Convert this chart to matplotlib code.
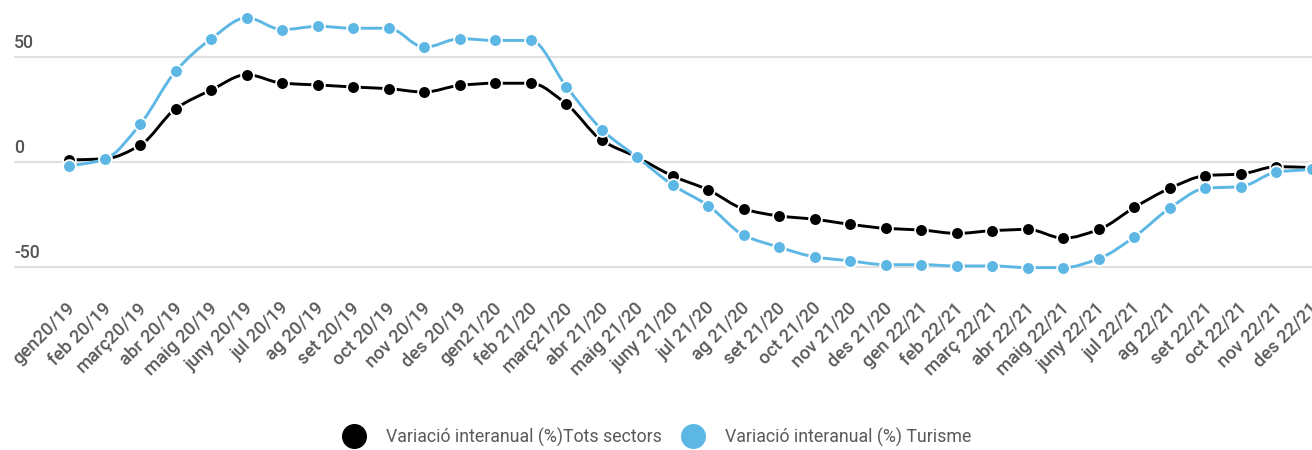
import numpy as np
import matplotlib
matplotlib.use("Agg")
import matplotlib.pyplot as plt
from matplotlib.path import Path
from matplotlib.patches import PathPatch
from matplotlib.lines import Line2D
from matplotlib.transforms import ScaledTranslation

plt.rcParams['font.family'] = ['Roboto', 'DejaVu Sans']

months = ["gen20/19", "feb 20/19", "març20/19", "abr 20/19", "maig 20/19", "juny 20/19",
          "jul 20/19", "ag 20/19", "set 20/19", "oct 20/19", "nov 20/19", "des 20/19",
          "gen21/20", "feb 21/20", "març21/20", "abr 21/20", "maig 21/20", "juny 21/20",
          "jul 21/20", "ag 21/20", "set 21/20", "oct 21/20", "nov 21/20", "des 21/20",
          "gen 22/21", "feb 22/21", "març 22/21", "abr 22/21", "maig 22/21", "juny 22/21",
          "jul 22/21", "ag 22/21", "set 22/21", "oct 22/21", "nov 22/21", "des 22/21"]

tots_sectors = [1.0, 1.5, 8.0, 25.4, 34.3, 41.6, 37.5, 36.7, 35.7, 34.9, 33.3, 36.5,
                37.5, 37.5, 27.6, 10.3, 2.2, -6.7, -13.3, -22.4, -25.7, -27.3, -29.7, -31.6,
                -32.4, -34.0, -32.7, -32.1, -36.3, -32.1, -21.6, -12.5, -6.5, -5.7, -2.2, -2.7]

turisme = [-2.0, 1.3, 18.0, 43.3, 58.7, 68.7, 63.0, 64.6, 63.7, 63.7, 54.6, 58.7,
           57.9, 57.9, 35.9, 15.4, 2.2, -11.0, -20.8, -34.9, -40.6, -45.2, -47.1, -48.9,
           -48.9, -49.5, -49.5, -50.3, -50.3, -46.0, -35.6, -21.9, -12.5, -11.7, -4.8, -3.5]

series_names = ["Variació interanual (%)Tots sectors", "Variació interanual (%) Turisme"]
series_colors = ["#000000", "#5DB7E5"]
yticks = [50, 0, -50]

W, H = 1312, 450
fig = plt.figure(figsize=(W / 100, H / 100), dpi=100)
ax = fig.add_axes([14 / W, 1 - 285 / H, (W - 14) / W, (285 - 5) / H])

x = np.arange(len(months))


def monotone_path(xs, ys):
    xs = np.asarray(xs, float)
    ys = np.asarray(ys, float)
    n = len(xs)
    h = np.diff(xs)
    d = np.diff(ys) / h
    m = np.zeros(n)
    m[0], m[-1] = d[0], d[-1]
    for i in range(1, n - 1):
        if d[i - 1] * d[i] <= 0:
            m[i] = 0
        else:
            w1 = 2 * h[i] + h[i - 1]
            w2 = h[i] + 2 * h[i - 1]
            m[i] = (w1 + w2) / (w1 / d[i - 1] + w2 / d[i])
    verts = [(xs[0], ys[0])]
    codes = [Path.MOVETO]
    for i in range(n - 1):
        dx = h[i] / 3
        verts += [(xs[i] + dx, ys[i] + m[i] * dx),
                  (xs[i + 1] - dx, ys[i + 1] - m[i + 1] * dx),
                  (xs[i + 1], ys[i + 1])]
        codes += [Path.CURVE4] * 3
    return Path(verts, codes)


for z, (vals, col) in enumerate(zip([tots_sectors, turisme], series_colors)):
    patch = PathPatch(monotone_path(x, vals), facecolor='none', edgecolor=col,
                      lw=2.1, zorder=3 + 2 * z, clip_on=False, capstyle='round',
                      joinstyle='round')
    ax.add_patch(patch)
    ax.plot(x, vals, linestyle='none', marker='o', markersize=9.2,
            markerfacecolor=col, markeredgecolor='white', markeredgewidth=1.3,
            zorder=4 + 2 * z, clip_on=False)

ax.set_xlim(-1.556, 34.96)
ax.set_ylim(-58.57, 74.76)

for v in yticks:
    ax.axhline(v, color='#e0e0e0', lw=1.5, zorder=1)
    ax.annotate(str(v), xy=(0, v), xycoords=('axes fraction', 'data'),
                xytext=(0, 5), textcoords='offset pixels', ha='left', va='bottom',
                fontsize=12.8, color='#555555', fontweight='medium')

ax.set_yticks([])
ax.set_xticks(x)
ax.set_xticklabels(months, rotation=45, ha='right', va='top', rotation_mode='anchor',
                   fontsize=13.2, color='#5a5a5a', fontweight='medium')
ax.tick_params(axis='x', length=0, pad=10)
for lab in ax.get_xticklabels():
    lab.set_transform(lab.get_transform() + ScaledTranslation(-3 / 100, 0, fig.dpi_scale_trans))

for s in ax.spines.values():
    s.set_visible(False)

handles = [Line2D([], [], linestyle='none', marker='o', markersize=17,
                  markerfacecolor=c, markeredgecolor=c) for c in series_colors]
leg = fig.legend(handles, series_names, loc='center', bbox_to_anchor=(0.5, 13 / H),
                 ncol=2, frameon=False, fontsize=12.8, handlelength=1.5,
                 handletextpad=1.1, columnspacing=0.95, borderpad=0, borderaxespad=0)
for t in leg.get_texts():
    t.set_color('#5a5a5a')

fig.savefig("out.png", dpi=100)
